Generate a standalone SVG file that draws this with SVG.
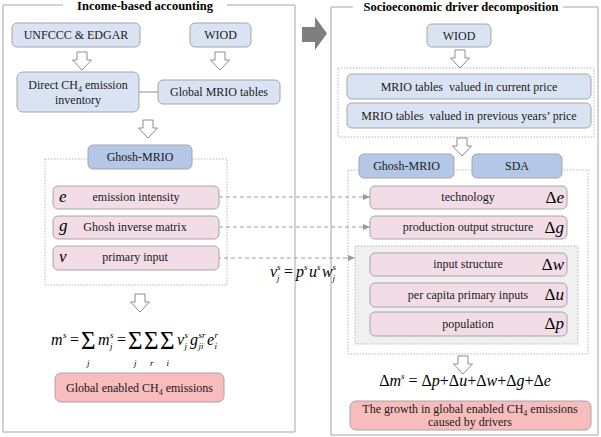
<svg xmlns="http://www.w3.org/2000/svg" width="601" height="437" viewBox="0 0 601 437">
<defs>
<style>
.panel{fill:none;stroke:#a6a6a6;stroke-width:1}
.title{font-family:"Liberation Serif",serif;font-weight:bold;font-size:12.5px;fill:#000;text-anchor:middle}
.lb{fill:#dae3f3;stroke:#a6a6a6;stroke-width:1}
.mb{fill:#b4c7e7;stroke:#a6a6a6;stroke-width:1}
.pk{fill:#f2dce6;stroke:#a6a6a6;stroke-width:1}
.rd{fill:#f8bcbd;stroke:#a6a6a6;stroke-width:1}
.dot{fill:none;stroke:#a6a6a6;stroke-width:0.8;stroke-dasharray:1.5 1.5}
.gr{fill:#f0f0f0;stroke:#a6a6a6;stroke-width:0.8;stroke-dasharray:1.5 1.5}
.t{font-family:"Liberation Serif",serif;font-size:12px;fill:#1a1a1a;text-anchor:middle;white-space:pre}
.sub{font-size:8px}
.fi{font-family:"Liberation Serif",serif;font-style:italic;font-size:16px;fill:#000}
.fu{font-family:"Liberation Serif",serif;font-size:16px;fill:#000}
.fs{font-family:"Liberation Serif",serif;font-style:italic;font-size:9px;fill:#000}
.sig{font-family:"Liberation Serif",serif;font-size:25px;fill:#000}
.var{font-family:"Liberation Serif",serif;font-style:italic;font-size:17px;fill:#000}
.dl{font-family:"Liberation Serif",serif;font-size:17px;fill:#000;text-anchor:end}
.ha{fill:#ffffff;stroke:#8c8c8c;stroke-width:1}
.dash{fill:none;stroke:#a0a0a0;stroke-width:1;stroke-dasharray:4 3}
</style>
<path id="harrow" d="M-5,0 H5 V8 H9.5 L0,18 L-9.5,8 H-5 Z"/>
<marker id="ah" markerUnits="userSpaceOnUse" markerWidth="7" markerHeight="6" refX="7" refY="3" orient="auto">
<path d="M0,0 L7,3 L0,6 Z" fill="#999999"/>
</marker>
</defs>

<!-- panels -->
<g id="panel-left">
<path class="panel" d="M63,5 H3 V432 H295 V5 H227"/>
<text class="title" x="145" y="10">Income-based accounting</text>
</g>
<g id="panel-right">
<path class="panel" d="M353,7 H331 V435 H598 V7 H563"/>
<text class="title" x="461" y="11">Socioeconomic driver decomposition</text>
</g>
<g id="big-arrow">
<path d="M302,27 H315 V17 L327,33.5 L315,50 V42 H302 Z" fill="#7f7f7f"/>
</g>

<!-- dotted containers -->
<g id="containers">
<rect class="dot" x="45" y="159" width="182" height="126"/>
<rect class="dot" x="338" y="68" width="256" height="69"/>
<rect class="dot" x="348" y="170" width="240" height="184"/>
<rect class="gr" x="355" y="246" width="223" height="98"/>
</g>

<!-- connectors -->
<g id="connectors">
<line x1="139" y1="92" x2="158" y2="92" stroke="#8c8c8c" stroke-width="1"/>
<line class="dash" x1="219" y1="197" x2="370" y2="197" marker-end="url(#ah)"/>
<line class="dash" x1="219" y1="227" x2="370" y2="227" marker-end="url(#ah)"/>
<line class="dash" x1="210" y1="258" x2="355" y2="258" marker-end="url(#ah)"/>
<use href="#harrow" class="ha" x="82" y="52"/>
<use href="#harrow" class="ha" x="220" y="52"/>
<use href="#harrow" class="ha" x="148" y="120"/>
<use href="#harrow" class="ha" x="140" y="294"/>
<use href="#harrow" class="ha" x="460" y="50"/>
<use href="#harrow" class="ha" x="462" y="138"/>
<use href="#harrow" class="ha" x="463" y="356"/>
</g>

<!-- left nodes -->
<g id="unfccc"><rect class="lb" x="12" y="23" width="128" height="24" rx="5"/><text class="t" x="76" y="39">UNFCCC &amp; EDGAR</text></g>
<g id="wiod-left"><rect class="lb" x="190" y="23" width="61" height="24" rx="5"/><text class="t" x="220.5" y="39">WIOD</text></g>
<g id="direct-inventory"><rect class="lb" x="17" y="72" width="122" height="40" rx="6"/>
<text class="t" x="78" y="89">Direct CH<tspan class="sub" dy="3">4</tspan><tspan dy="-3"> emission</tspan></text>
<text class="t" x="78" y="104">inventory</text></g>
<g id="global-mrio"><rect class="lb" x="158" y="80" width="122" height="24" rx="5"/><text class="t" x="219" y="96">Global MRIO tables</text></g>
<g id="ghosh-left"><rect class="mb" x="88" y="145" width="104" height="24" rx="5"/><text class="t" x="140" y="161">Ghosh-MRIO</text></g>
<g id="e-node"><rect class="pk" x="53" y="186" width="166" height="23" rx="5"/><text class="var" x="59" y="202">e</text><text class="t" x="136" y="201">emission intensity</text></g>
<g id="g-node"><rect class="pk" x="53" y="216" width="166" height="23" rx="5"/><text class="var" x="59" y="231">g</text><text class="t" x="135" y="231">Ghosh inverse matrix</text></g>
<g id="v-node"><rect class="pk" x="53" y="246" width="166" height="24" rx="5"/><text class="var" x="59" y="262">v</text><text class="t" x="135" y="261">primary input</text></g>

<g id="formula-left" transform="translate(3,0)">
<text class="fi" x="48" y="345">m</text><text class="fs" x="60" y="338">s</text>
<text class="fu" x="67" y="345">=</text>
<text class="sig" x="78" y="349">Σ</text><text class="fs" x="84" y="366">j</text>
<text class="fi" x="95" y="345">m</text><text class="fs" x="107" y="338">s</text><text class="fs" x="107" y="349">j</text>
<text class="fu" x="114" y="345">=</text>
<text class="sig" x="125" y="349">Σ</text><text class="fs" x="131" y="366">j</text>
<text class="sig" x="141" y="349">Σ</text><text class="fs" x="147" y="366">r</text>
<text class="sig" x="157" y="349">Σ</text><text class="fs" x="163.5" y="366">i</text>
<text class="fi" x="174" y="345">v</text><text class="fs" x="181.5" y="338">s</text><text class="fs" x="181.5" y="349">j</text>
<text class="fi" x="187" y="345">g</text><text class="fs" x="195.5" y="338">sr</text><text class="fs" x="195.5" y="349">ji</text>
<text class="fi" x="204" y="345">e</text><text class="fs" x="211.5" y="338">r</text><text class="fs" x="211.5" y="349">i</text>
</g>

<g id="global-enabled"><rect class="rd" x="55" y="373" width="169" height="29" rx="6"/>
<text class="t" x="139.5" y="392">Global enabled CH<tspan class="sub" dy="3">4</tspan><tspan dy="-3"> emissions</tspan></text></g>

<!-- right nodes -->
<g id="wiod-right"><rect class="lb" x="427" y="24" width="64" height="23" rx="5"/><text class="t" x="459" y="40">WIOD</text></g>
<g id="mrio-current"><rect class="lb" x="347" y="74" width="244" height="25" rx="5"/><text class="t" x="469" y="91">MRIO tables  valued in current price</text></g>
<g id="mrio-previous"><rect class="lb" x="347" y="103" width="244" height="25" rx="5"/><text class="t" x="469" y="120">MRIO tables  valued in previous years’ price</text></g>
<g id="ghosh-right"><rect class="mb" x="359" y="154" width="95" height="24" rx="5"/><text class="t" x="406.5" y="170">Ghosh-MRIO</text></g>
<g id="sda"><rect class="mb" x="472" y="154" width="90" height="24" rx="5"/><text class="t" x="517" y="170">SDA</text></g>

<g id="technology"><rect class="pk" x="370" y="186" width="197" height="23" rx="5"/><text class="t" x="468" y="201">technology</text><text class="dl" x="564" y="203">Δ<tspan font-style="italic">e</tspan></text></g>
<g id="production"><rect class="pk" x="370" y="216" width="197" height="23" rx="5"/><text class="t" x="468" y="231">production output structure</text><text class="dl" x="564" y="233">Δ<tspan font-style="italic">g</tspan></text></g>
<g id="input-structure"><rect class="pk" x="370" y="253" width="197" height="23" rx="5"/><text class="t" x="468" y="268">input structure</text><text class="dl" x="564" y="270">Δ<tspan font-style="italic">w</tspan></text></g>
<g id="per-capita"><rect class="pk" x="370" y="283" width="197" height="24" rx="5"/><text class="t" x="468" y="299">per capita primary inputs</text><text class="dl" x="564" y="300">Δ<tspan font-style="italic">u</tspan></text></g>
<g id="population"><rect class="pk" x="370" y="312" width="197" height="24" rx="5"/><text class="t" x="468" y="328">population</text><text class="dl" x="564" y="329">Δ<tspan font-style="italic">p</tspan></text></g>

<g id="formula-v">
<text class="fi" x="270" y="277" font-size="15">v</text><text class="fs" x="277" y="270" font-size="8">s</text><text class="fs" x="277" y="281" font-size="8">j</text>
<text class="fu" x="284" y="277" font-size="15">=</text>
<text class="fi" x="296" y="277" font-size="15">p</text><text class="fs" x="304" y="270" font-size="8">s</text>
<text class="fi" x="309" y="277" font-size="15">u</text><text class="fs" x="317" y="270" font-size="8">s</text>
<text class="fi" x="322" y="277" font-size="15">w</text><text class="fs" x="332.5" y="270" font-size="8">s</text><text class="fs" x="332.5" y="281" font-size="8">j</text>
</g>

<g id="formula-right">
<text class="fu" x="465" y="386" text-anchor="middle">Δ<tspan font-style="italic">m</tspan><tspan font-style="italic" font-size="9" dy="-7">s</tspan><tspan dy="7"> = Δ</tspan><tspan font-style="italic">p</tspan>+Δ<tspan font-style="italic">u</tspan>+Δ<tspan font-style="italic">w</tspan>+Δ<tspan font-style="italic">g</tspan>+Δ<tspan font-style="italic">e</tspan></text>
</g>

<g id="growth"><rect class="rd" x="350" y="401" width="241" height="29" rx="6"/>
<text class="t" x="470" y="413">The growth in global enabled CH<tspan class="sub" dy="3">4</tspan><tspan dy="-3"> emissions</tspan></text>
<text class="t" x="470" y="426">caused by drivers</text></g>
</svg>
